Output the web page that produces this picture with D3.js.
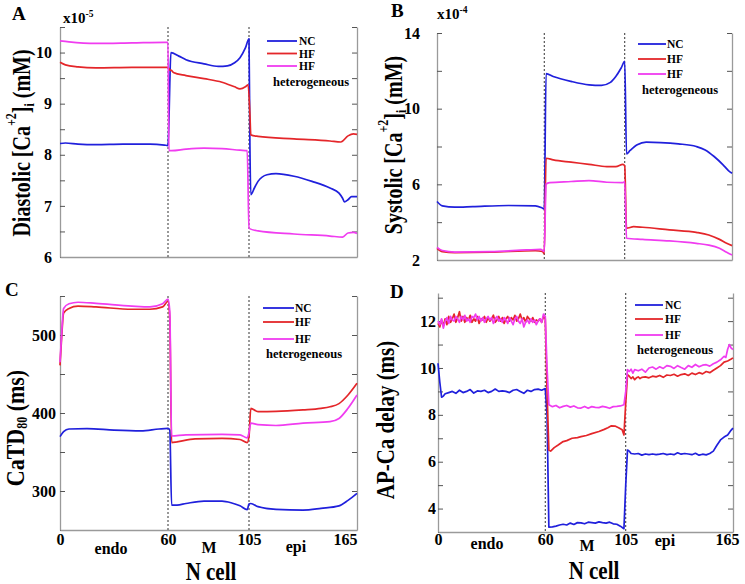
<!DOCTYPE html>
<html><head><meta charset="utf-8">
<script src="https://cdn.jsdelivr.net/npm/d3@7"></script>
<style>
body{margin:0;background:#fff}
svg{display:block}
text{font-family:"Liberation Serif","Times New Roman",serif;font-weight:bold;fill:#000}
</style>
</head><body>
<svg id="chart" width="745" height="584"></svg>
<script>
// ---------- DATA (cell index n, value) ----------
const cellTicks = [0, 60, 105, 165];
const regionNames = ["endo", "M", "epi"];
const seriesNames = ["NC", "HF", "HF"];

// A: Diastolic [Ca2+]i (x1e-5 mM)
const diaNC = [[0,8.22],[3,8.23],[10,8.21],[20,8.2],[35,8.21],[50,8.21],[58,8.19],[60,8.18],[60.6,8.78],[61,9.4],[61.6,10.0],[66,9.93],[70,9.86],[80,9.78],[88,9.73],[93,9.74],[97,9.8],[100,9.9],[103,10.09],[105,10.27],[105.5,8.2],[106,7.22],[108,7.35],[110,7.48],[115,7.61],[120,7.63],[130,7.58],[140,7.48],[150,7.35],[155,7.25],[157,7.15],[158,7.08],[160,7.12],[162,7.18],[165,7.18]];
const diaHF = [[0,9.81],[3,9.76],[10,9.72],[20,9.7],[40,9.71],[55,9.71],[60,9.71],[61,9.66],[62,9.65],[63,9.61],[70,9.55],[80,9.49],[90,9.42],[97,9.33],[100,9.29],[103,9.33],[104.5,9.37],[105.5,8.8],[106,8.39],[110,8.36],[130,8.31],[150,8.27],[156,8.25],[160,8.37],[163,8.41],[165,8.4]];
const diaHet = [[0,10.23],[5,10.21],[20,10.18],[40,10.19],[58,10.2],[60,10.2],[60.5,8.08],[62,8.08],[70,8.11],[80,8.13],[90,8.12],[100,8.09],[104,8.08],[105,6.56],[110,6.51],[130,6.45],[150,6.41],[157,6.39],[160,6.47],[163,6.48],[165,6.46]];
const diaTicks = [6,7,8,9,10];
const diaMarks = [6,6.5,7,7.5,8,8.5,9,9.5,10,10.5];

// B: Systolic [Ca2+]i (x1e-4 mM)
const sysNC = [[0,5.09],[3,4.86],[10,4.79],[20,4.82],[40,4.88],[55,4.86],[59,4.74],[60,4.7],[61,11.85],[65,11.7],[75,11.44],[85,11.26],[92,11.23],[97,11.39],[100,11.7],[103,12.15],[105,12.5],[106,7.61],[108,7.79],[112,8.09],[117,8.23],[125,8.21],[135,8.14],[145,8.0],[150,7.82],[155,7.47],[160,7.03],[163,6.73],[165,6.59]];
const sysHF = [[0,2.62],[3,2.44],[10,2.39],[30,2.41],[55,2.49],[59,2.45],[60,2.32],[61,7.38],[65,7.29],[75,7.17],[85,7.06],[95,6.94],[100,6.94],[104,7.06],[105,6.97],[106,3.68],[110,3.76],[115,3.73],[130,3.59],[145,3.46],[152,3.32],[158,3.09],[162,2.88],[165,2.76]];
const sysHet = [[0,2.67],[3,2.5],[10,2.42],[30,2.44],[50,2.53],[58,2.56],[60,2.45],[61,6.02],[63,6.09],[75,6.15],[85,6.2],[95,6.11],[104,6.09],[105,6.14],[106,3.15],[115,3.09],[130,3.01],[145,2.88],[152,2.79],[158,2.62],[162,2.41],[165,2.26]];
const sysTicks = [2,6,10,14];
const sysMarks = [2,4,6,8,10,12,14];

// C: CaTD80 (ms)
const catdNC = [[0,369.7],[2,376],[5,379.5],[15,380],[30,378],[45,377],[55,379.5],[60,380.3],[61,378],[62,282],[65,282],[70,284],[80,287],[90,287],[95,285],[100,281],[104,276],[105,283.3],[106,284],[110,280],[120,276.5],[135,275.6],[145,277.8],[155,281],[160,288],[165,297]];
const catdHF = [[0,461],[1,500],[2,528],[5,534],[10,537],[20,536],[40,533],[50,533],[57,536],[60,543],[61,520],[62,362],[65,363],[75,366.7],[90,367.5],[100,366],[104,362],[105,370],[106,406],[110,401.7],[120,402],[135,404],[145,406],[150,408],[155,412],[160,423],[165,438]];
const catdHet = [[0,465],[1,505],[2,534],[5,540],[10,542],[20,540.6],[40,537],[50,536],[57,540],[60,546],[61,530],[62,370.5],[70,372],[90,372.6],[100,372],[104,368],[105,375],[106,387],[110,385],[120,384],[135,387],[150,389],[155,393],[160,406],[165,423]];
const catdTicks = [300,400,500];
const catdMarks = [250,300,350,400,450,500,550];

// D: AP-Ca delay (ms)
const delayNC = [[0,10.2],[1,9.4],[2,8.75],[3,8.8],[4,8.9],[6,8.95],[8,9.0],[10,8.92],[12,9.05],[14,8.95],[16,9.0],[18,9.08],[20,8.93],[22,9.02],[24,9.0],[26,9.05],[28,8.95],[30,9.0],[32,9.1],[34,9.0],[36,9.02],[38,9.0],[40,8.95],[42,9.05],[44,9.08],[46,9.0],[48,8.92],[50,9.05],[52,9.0],[54,9.08],[56,9.1],[58,9.05],[60,9.12],[61,8.0],[62,3.21],[64,3.22],[66,3.25],[68,3.3],[70,3.33],[72,3.3],[74,3.38],[76,3.32],[78,3.4],[80,3.39],[82,3.35],[84,3.42],[86,3.4],[88,3.38],[90,3.43],[92,3.4],[94,3.38],[96,3.42],[98,3.35],[100,3.33],[102,3.25],[104,3.14],[105,5.0],[106,6.5],[107,6.45],[108,6.35],[110,6.33],[112,6.35],[114,6.28],[116,6.33],[118,6.3],[120,6.33],[122,6.3],[124,6.32],[126,6.35],[128,6.3],[130,6.33],[132,6.3],[134,6.38],[136,6.32],[138,6.35],[140,6.33],[142,6.3],[144,6.36],[146,6.28],[148,6.32],[150,6.29],[152,6.35],[154,6.45],[156,6.7],[158,6.93],[160,7.05],[162,7.14],[164,7.35],[165,7.43]];
const delayHF = [[0,11.9],[1,11.75],[2,12.05],[3,11.8],[4,12.1],[5,11.85],[6,12.2],[7,11.95],[8,12.1],[9,12.3],[10,11.95],[11,12.15],[12,12.4],[13,12.0],[14,12.2],[15,11.95],[16,12.15],[17,12.05],[18,12.25],[19,11.95],[20,12.1],[21,12.0],[22,12.2],[23,11.9],[24,12.1],[25,12.05],[26,12.2],[27,11.95],[28,12.15],[29,12.0],[30,12.1],[31,12.25],[32,11.95],[33,12.05],[34,12.2],[35,12.0],[36,12.15],[37,11.9],[38,12.1],[39,12.2],[40,12.0],[41,12.15],[42,12.05],[43,12.25],[44,12.0],[45,12.1],[46,12.3],[47,12.05],[48,12.15],[49,11.95],[50,12.2],[51,12.1],[52,12.0],[53,12.15],[54,11.95],[55,12.05],[56,12.0],[57,12.1],[58,11.95],[59,12.2],[60,12.1],[61,9.0],[62,6.5],[63,6.45],[65,6.6],[67,6.7],[70,6.86],[72,6.9],[75,7.0],[78,7.03],[80,7.07],[83,7.12],[86,7.2],[90,7.29],[93,7.38],[95,7.45],[97,7.53],[99,7.52],[101,7.45],[103,7.36],[104,7.14],[105,8.5],[106,9.71],[107,9.65],[108,9.55],[109,9.62],[110,9.5],[111,9.58],[112,9.62],[113,9.55],[114,9.6],[116,9.62],[118,9.58],[120,9.65],[122,9.62],[124,9.68],[126,9.6],[128,9.7],[130,9.68],[132,9.73],[134,9.65],[136,9.72],[138,9.75],[140,9.68],[142,9.78],[144,9.72],[146,9.8],[148,9.75],[150,9.85],[152,9.8],[154,9.9],[156,10.0],[158,10.1],[160,10.25],[162,10.3],[164,10.38],[165,10.43]];
const delayHet = [[0,12.0],[1,11.85],[2,12.1],[3,11.7],[4,12.0],[5,12.15],[6,11.9],[7,12.2],[8,12.05],[9,12.0],[10,12.2],[11,12.1],[12,11.95],[13,12.2],[14,12.05],[15,12.25],[16,12.0],[17,12.1],[18,11.95],[19,12.2],[20,12.15],[21,12.3],[22,12.05],[23,12.2],[24,12.0],[25,12.15],[26,11.95],[27,12.1],[28,12.2],[29,12.05],[30,12.15],[31,11.9],[32,12.1],[33,12.2],[34,12.0],[35,12.1],[36,11.95],[37,12.15],[38,12.05],[39,11.9],[40,12.15],[41,12.0],[42,11.85],[43,12.1],[44,12.2],[45,12.0],[46,11.9],[47,12.1],[48,11.75],[49,11.95],[50,12.05],[51,11.9],[52,12.1],[53,11.95],[54,12.05],[55,11.85],[56,12.0],[57,12.1],[58,11.95],[59,12.3],[60,12.2],[61,10.0],[62,8.43],[64,8.35],[66,8.4],[68,8.3],[70,8.36],[72,8.4],[74,8.33],[76,8.38],[78,8.3],[80,8.29],[82,8.36],[84,8.28],[86,8.35],[88,8.32],[90,8.31],[92,8.36],[94,8.33],[96,8.28],[98,8.35],[100,8.36],[102,8.38],[104,8.43],[105,9.0],[106,9.93],[107,9.85],[108,9.95],[109,9.78],[110,9.93],[112,9.88],[114,9.95],[116,9.82],[118,10.0],[120,10.04],[122,9.95],[124,10.05],[126,9.98],[128,10.1],[130,10.07],[132,9.98],[134,10.1],[136,10.02],[138,9.95],[140,10.1],[142,10.03],[144,10.15],[146,10.05],[148,10.12],[150,10.14],[152,10.08],[154,10.18],[156,10.25],[158,10.35],[160,10.5],[161,10.45],[162,10.8],[163,11.0],[164,10.85],[165,10.79]];
const delayTicks = [4,6,8,10,12];
const delayMarks = [3,4,5,6,7,8,9,10,11,12,13];

// ---------- STYLE ----------
const colors = ["#2020dc", "#e4262a", "#f03cf0"];
const axisGray = "#9a9a9a";

const panels = [
  {id:"A", x0:60, x1:357, y0:27, y1:257, ydom:[6,10.5], series:[diaNC,diaHF,diaHet], ticks:diaTicks, marks:diaMarks,
   tickPad:8, curve:d3.curveMonotoneX, letter:[12,20], exp:["x10","-5",63,23],
   ylab:{parts:[["Diastolic [Ca",""],["+2","sup"],["]",""],["i","sub"],["  (mM)",""]], x:21, y:143, fs:20, sc:1.27},
   legend:{lx:267, lw:30, ys:[41,53.5,66], tx:299, hx:273, hy:82}, bottom:false},
  {id:"B", x0:437, x1:732, y0:33, y1:260, ydom:[2,14], series:[sysNC,sysHF,sysHet], ticks:sysTicks, marks:sysMarks,
   tickPad:17, curve:d3.curveMonotoneX, letter:[391,17], exp:["x10","-4",437,19],
   ylab:{parts:[["Systolic [Ca",""],["+2","sup"],["]",""],["i","sub"],["  (mM)",""]], x:393, y:145, fs:20, sc:1.27},
   legend:{lx:638, lw:28, ys:[44,59,74], tx:667, hx:642, hy:90}, bottom:false},
  {id:"C", x0:60, x1:357, y0:296, y1:530, ydom:[250,550], series:[catdNC,catdHF,catdHet], ticks:catdTicks, marks:catdMarks,
   tickPad:4, curve:d3.curveMonotoneX, letter:[5,296],
   ylab:{parts:[["CaTD",""],["80","sub"],[" (ms)",""]], x:15, y:428, fs:22, sc:1.15},
   legend:{lx:263, lw:31, ys:[308,322,339], tx:295, hx:266, hy:354}, bottom:true,
   regions:[[111,554],[209,553],[296,552]], ncell:[211,580], lastShift:-12},
  {id:"D", x0:438, x1:733, y0:293, y1:532, ydom:[3,13.2], series:[delayNC,delayHF,delayHet], ticks:delayTicks, marks:delayMarks,
   tickPad:2, curve:d3.curveLinear, letter:[390,298],
   ylab:{parts:[["AP-Ca delay (ms)",""]], x:385, y:420, fs:21, sc:1.18},
   legend:{lx:635, lw:28, ys:[305,319,335], tx:665, hx:637, hy:350}, bottom:true,
   regions:[[487,549],[587,551],[665,546]], ncell:[594,579], lastShift:-6}
];

const svg = d3.select("#chart");
svg.append("rect").attr("width",745).attr("height",584).attr("fill","#fff");

panels.forEach(p => {
  const x = d3.scaleLinear().domain([0,165]).range([p.x0,p.x1]);
  const y = d3.scaleLinear().domain(p.ydom).range([p.y1,p.y0]);
  const g = svg.append("g");

  // left axis
  const la = g.append("g").attr("transform",`translate(${p.x0},0)`)
    .call(d3.axisLeft(y).tickValues(p.marks).tickSizeInner(-5).tickSizeOuter(0).tickPadding(p.tickPad)
      .tickFormat(d => p.ticks.includes(d) ? d3.format("d")(d) : ""));
  // right axis
  const ra = g.append("g").attr("transform",`translate(${p.x1},0)`)
    .call(d3.axisRight(y).tickValues(p.marks).tickSizeInner(-5).tickSizeOuter(0).tickFormat(""));
  // bottom axis
  const ba = g.append("g").attr("transform",`translate(0,${p.y1})`)
    .call(d3.axisBottom(x).tickValues(cellTicks).tickSizeInner(-4).tickSizeOuter(0).tickPadding(p.tickPad)
      .tickFormat(d => p.bottom ? d : ""));
  [la,ra,ba].forEach(a => {
    a.select(".domain").attr("stroke",axisGray).attr("stroke-width",1.3);
    a.selectAll(".tick line").attr("stroke","#555").attr("stroke-width",1);
    a.selectAll("text").attr("font-family",'"Liberation Serif",serif').attr("font-weight","bold")
      .attr("font-size",16).attr("fill","#000");
  });
  ba.selectAll(".tick line").attr("stroke","none");
  if (p.bottom) {
    ba.selectAll(".tick text").filter(d => d === 165).attr("dx", p.lastShift);
  }

  // dotted region boundaries
  g.selectAll(".sep").data([60,105]).enter().append("line")
    .attr("x1",d=>x(d)).attr("x2",d=>x(d)).attr("y1",p.y0).attr("y2",p.y1)
    .attr("stroke","#333").attr("stroke-width",1).attr("stroke-dasharray","2,2");

  // series lines
  const line = d3.line().x(d=>x(d[0])).y(d=>y(d[1])).curve(p.curve);
  p.series.forEach((s,i) => {
    g.append("path").datum(s).attr("d",line).attr("fill","none")
      .attr("stroke",colors[i]).attr("stroke-width",1.7).attr("stroke-linejoin","round");
  });

  // legend
  const L = p.legend;
  seriesNames.forEach((nm,i) => {
    g.append("line").attr("x1",L.lx).attr("x2",L.lx+L.lw).attr("y1",L.ys[i]).attr("y2",L.ys[i])
      .attr("stroke",colors[i]).attr("stroke-width",1.8);
    g.append("text").attr("x",L.tx).attr("y",L.ys[i]+4).attr("font-size",11.5).text(nm);
  });
  g.append("text").attr("x",L.hx).attr("y",L.hy+4).attr("font-size",12.5).text("heterogeneous");

  // panel letter
  g.append("text").attr("x",p.letter[0]).attr("y",p.letter[1]).attr("font-size",19).text(p.id);

  // exponent
  if (p.exp) {
    const t = g.append("text").attr("x",p.exp[2]).attr("y",p.exp[3]).attr("font-size",15);
    t.append("tspan").text(p.exp[0]);
    t.append("tspan").attr("font-size",9.5).attr("dy",-6).text(p.exp[1]);
  }

  // y label (rotated)
  const yl = g.append("text").attr("text-anchor","middle").attr("font-size",p.ylab.fs)
    .attr("transform",`translate(${p.ylab.x},${p.ylab.y}) rotate(-90) scale(1,${p.ylab.sc})`)
    .attr("dominant-baseline","central");
  let shift = 0;
  p.ylab.parts.forEach(([txt,kind]) => {
    const ts = yl.append("tspan").text(txt);
    if (kind === "sup") { ts.attr("font-size",12).attr("dy",-8 - shift); shift = -8; }
    else if (kind === "sub") { ts.attr("font-size",12).attr("dy",6 - shift); shift = 6; }
    else { ts.attr("dy",-shift); shift = 0; }
  });

  // bottom region labels and x title
  if (p.bottom) {
    regionNames.forEach((r,i) => {
      g.append("text").attr("x",p.regions[i][0]).attr("y",p.regions[i][1]).attr("text-anchor","middle")
        .attr("font-size",16).text(r);
    });
    g.append("text").attr("x",p.ncell[0]).attr("y",p.ncell[1]).attr("text-anchor","middle")
      .attr("font-size",21).attr("transform",`translate(0,${-p.ncell[1]*0.18}) scale(1,1.18)`).text("N cell");
  }
});
</script>
</body></html>
